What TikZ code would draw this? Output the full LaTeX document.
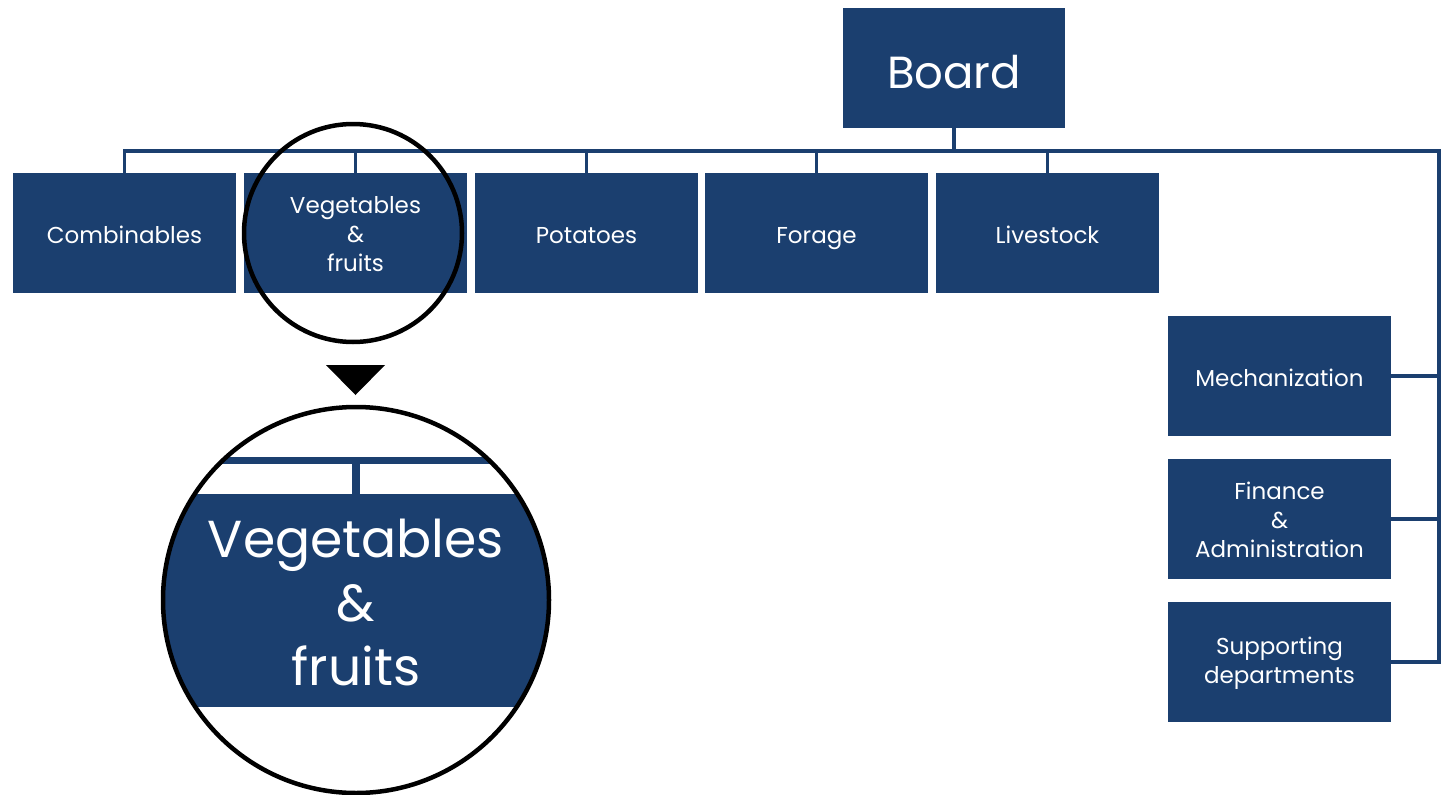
\documentclass[tikz,border=0pt]{standalone}
\usepackage{fontspec}
\setmainfont{Poppins}
\definecolor{navy}{HTML}{1B3F6F}
\newcommand\ls{\rule[-2pt]{0pt}{22pt}}
\newcommand\dls{\rule[-7pt]{0pt}{22pt}}
\begin{document}
\begin{tikzpicture}[x=1pt,y=-1pt,
  box/.style={fill=navy, draw=none, minimum width=223pt, minimum height=120pt,
    inner sep=0pt, text=white, font=\fontsize{23}{29}\selectfont, align=center},
  single/.style={text height=27pt, text depth=7pt},
  link/.style={draw=navy, line width=3.5pt, line join=miter},
  lens/.style={circle, draw=black, line width=4.5pt, inner sep=0pt}
]
\useasboundingbox (0,0) rectangle (1443,795);
% top
\node[box, minimum width=222pt, font=\fontsize{45}{50}\selectfont, text height=42pt, text depth=2pt] (board) at (954,68) {Board};
% row
\node[box, single] (comb) at (124.5,233) {Combinables};
\node[box] (veg) at (355.5,233) {\ls Vegetables\\\ls\&\\\ls fruits};
\node[box, single] (pot) at (586.5,233) {Potatoes};
\node[box, single] (forage) at (816.5,233) {Forage};
\node[box, single] (live) at (1047.5,233) {Livestock};
% right column
\node[box, single] (mech) at (1279.5,376) {Mechanization};
\node[box] (fin) at (1279.5,519) {\ls Finance\\\ls\&\\\ls Administration};
\node[box] (sup) at (1279.5,662) {\ls Supporting\\\dls departments};
% connectors
\coordinate (busL) at (124.5,151);
\coordinate (busR) at (1439,151);
\draw[link] (board.south) -- (board.south |- busL);
\draw[link] (comb.north) |- (busR) -- (busR |- sup.east) -- (sup.east);
\foreach \n in {veg,pot,forage,live}
  \draw[link] (\n.north) -- (\n.north |- busL);
\draw[link] (mech.east) -- (mech.east -| busR);
\draw[link] (fin.east) -- (fin.east -| busR);
% small lens
\node[lens, minimum size=218pt] (smalllens) at (353,233) {};
% pointer triangle
\fill[black] (326,365) -- (385,365) -- (355.5,395) -- cycle;
% magnified view
\begin{scope}
  \clip (356,600) circle [radius=193pt];
  \fill[navy] (140,494) rectangle (570,707);
  \draw[navy, line width=7pt] (140,460) -- (570,460);
  \draw[navy, line width=8pt] (356,460) -- (356,494);
  \node[text=white, align=center, inner sep=0pt, font=\fontsize{52}{64}\selectfont] (vegbig) at (356,602) {Vegetables\\\&\\fruits};
\end{scope}
\node[lens, minimum size=386pt] (biglens) at (356,600) {};
\end{tikzpicture}
\end{document}
